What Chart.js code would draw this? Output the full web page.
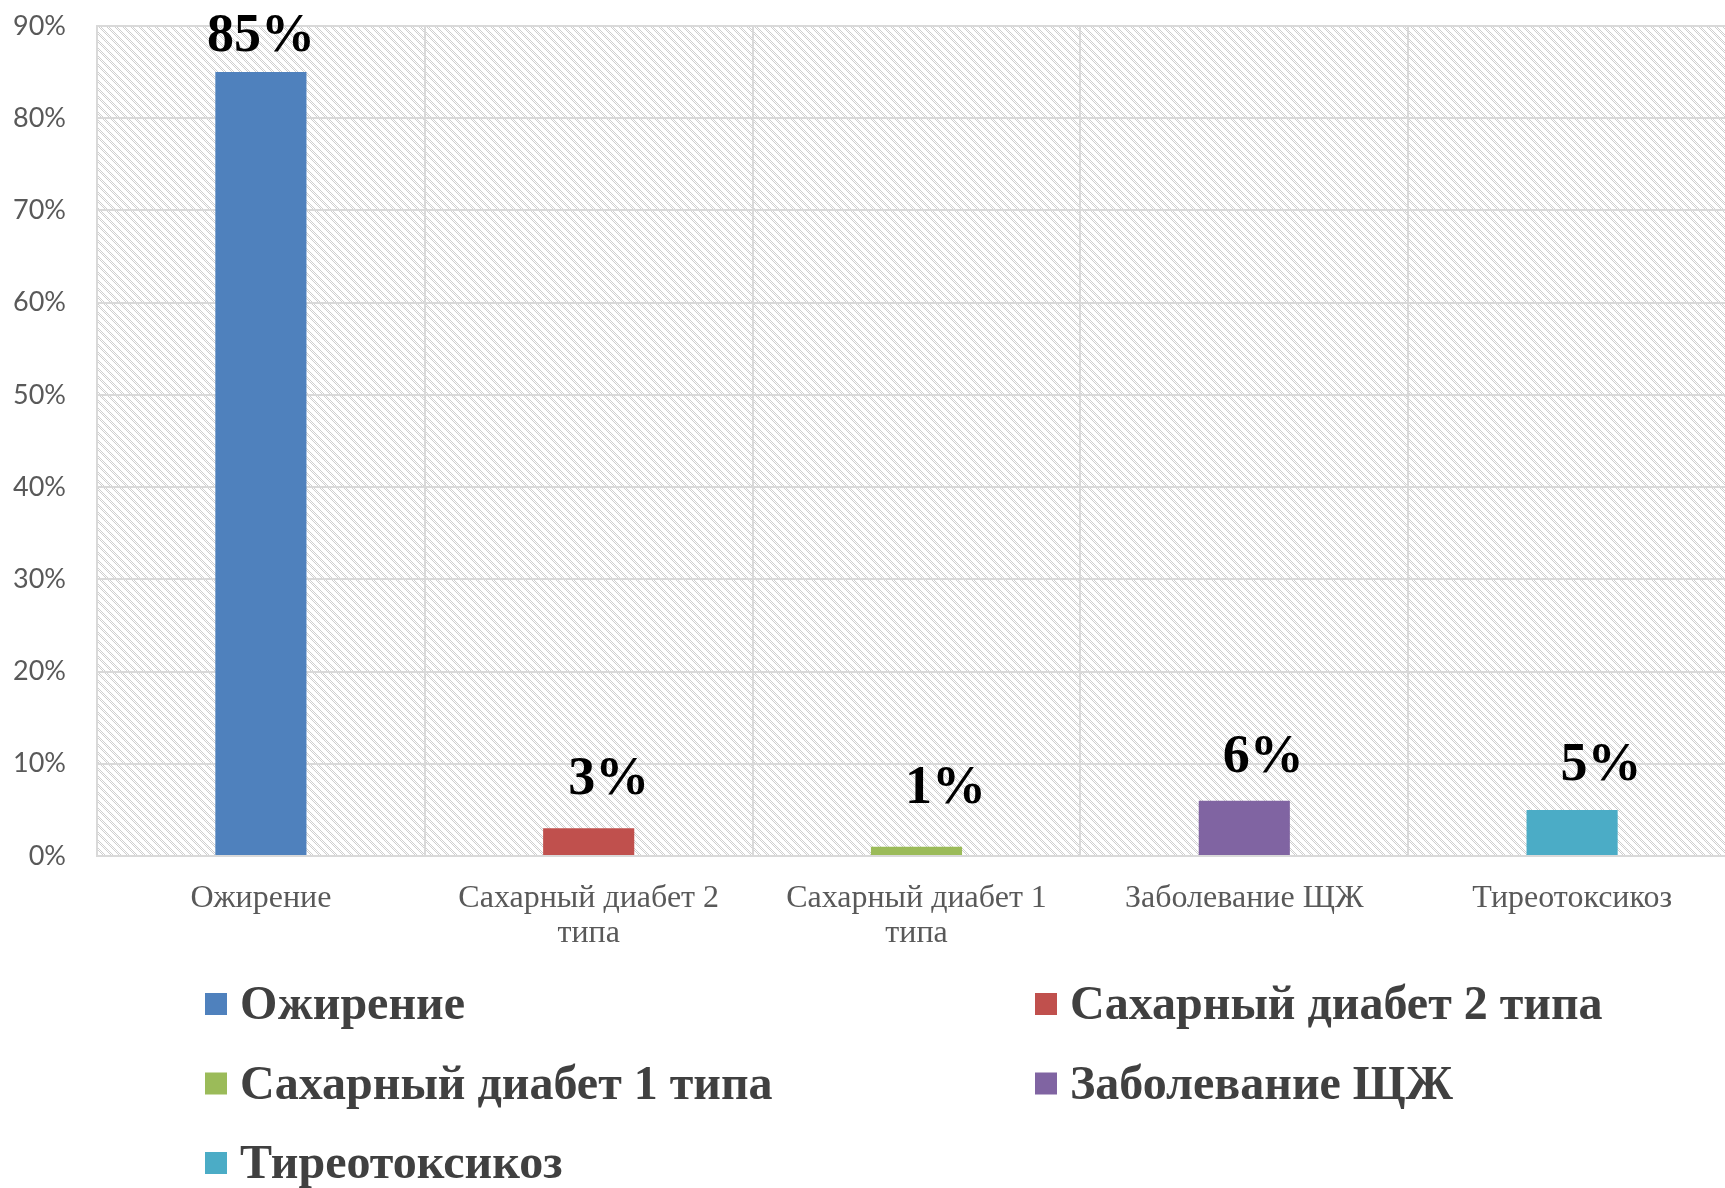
<!DOCTYPE html>
<html>
<head>
<meta charset="utf-8">
<script src="https://cdn.jsdelivr.net/npm/chart.js@4"></script>
<style>
  html, body { margin: 0; padding: 0; background: #ffffff; overflow: hidden; }
  #wrap { width: 1740px; height: 1188px; }
</style>
</head>
<body>
<div id="wrap"><canvas id="grafica" width="1740" height="1188"></canvas></div>
<script>
// datos del gráfico
const categorias = [
  ['Ожирение'],
  ['Сахарный диабет 2', 'типа'],
  ['Сахарный диабет 1', 'типа'],
  ['Заболевание ЩЖ'],
  ['Тиреотоксикоз']
];
const nombresLeyenda = ['Ожирение', 'Сахарный диабет 2 типа', 'Сахарный диабет 1 типа', 'Заболевание ЩЖ', 'Тиреотоксикоз'];
const valores = [85, 3, 1, 6, 5];
const etiquetas = ['85%', '3%', '1%', '6%', '5%'];
const colores = ['#4F81BD', '#C0504D', '#9BBB59', '#8064A2', '#4BACC6'];
const yMax = 90;
const yPaso = 10;

// desplazamiento de las etiquetas (colocadas a mano en el original)
const ajusteEtiqueta = [[0, 21], [20, 34], [29, 44], [19, 29], [29, 30]];

// fondo rayado del área del gráfico
function crearPatron(ctx) {
  const t = document.createElement('canvas');
  t.width = 8; t.height = 8;
  const c = t.getContext('2d');
  c.fillStyle = '#ffffff';
  c.fillRect(0, 0, 8, 8);
  c.fillStyle = '#cfcfcf';
  for (let y = 0; y < 8; y++) {
    for (let x = 0; x < 8; x++) {
      const d = ((x - y) % 8 + 8) % 8;
      if (d < 4 && (x + y) % 2 === 0) c.fillRect(x, y, 1, 1);
    }
  }
  return ctx.createPattern(t, 'repeat');
}

const fondoPlugin = {
  id: 'fondo',
  beforeDraw(chart) {
    const { ctx, chartArea } = chart;
    ctx.save();
    ctx.fillStyle = crearPatron(ctx);
    ctx.fillRect(chartArea.left, chartArea.top, chartArea.right - chartArea.left, chartArea.bottom - chartArea.top);
    ctx.restore();
  }
};

const etiquetasPlugin = {
  id: 'etiquetas',
  afterDatasetsDraw(chart) {
    const { ctx } = chart;
    const meta = chart.getDatasetMeta(0);
    ctx.save();
    ctx.font = 'bold 54px "Liberation Serif", "Times New Roman", serif';
    ctx.fillStyle = '#000000';
    ctx.textAlign = 'center';
    ctx.textBaseline = 'alphabetic';
    meta.data.forEach((bar, i) => {
      const [dx, dy] = ajusteEtiqueta[i];
      ctx.fillText(etiquetas[i], bar.x + dx, bar.y - dy);
    });
    ctx.restore();
  }
};

const leyendaPlugin = {
  id: 'leyendaGrid',
  afterDraw(chart) {
    const { ctx } = chart;
    const colX = [205, 1035];
    const filaY = [1004, 1083.5, 1163];
    ctx.save();
    ctx.font = 'bold 48px "Liberation Serif", "Times New Roman", serif';
    ctx.textBaseline = 'middle';
    ctx.textAlign = 'left';
    nombresLeyenda.forEach((nombre, i) => {
      const x = colX[i % 2];
      const y = filaY[Math.floor(i / 2)];
      ctx.fillStyle = colores[i];
      ctx.fillRect(x, y - 11, 22, 22);
      ctx.fillStyle = '#404040';
      ctx.fillText(nombre, x + 35, y + 3);
    });
    ctx.restore();
  }
};

const ctx = document.getElementById('grafica').getContext('2d');
new Chart(ctx, {
  type: 'bar',
  data: {
    labels: categorias,
    datasets: [{
      data: valores,
      backgroundColor: colores,
      borderWidth: 0,
      barPercentage: 0.556,
      categoryPercentage: 0.5
    }]
  },
  options: {
    responsive: false,
    animation: false,
    layout: { padding: { top: 26, right: 4, left: 0, bottom: 0 } },
    plugins: {
      legend: { display: false },
      tooltip: { enabled: false }
    },
    scales: {
      x: {
        grid: { color: '#d9d9d9', lineWidth: 2, drawTicks: false, offset: true },
        border: { color: '#d9d9d9', width: 2 },
        ticks: {
          color: '#595959',
          font: { family: '"Liberation Serif", "Times New Roman", serif', size: 32, lineHeight: 1.1 },
          padding: 25,
          maxRotation: 0,
          autoSkip: false
        },
        afterFit(scale) { scale.height = 332; }
      },
      y: {
        min: 0,
        max: yMax,
        grid: { color: '#d9d9d9', lineWidth: 2, drawTicks: false },
        border: { color: '#d9d9d9', width: 2 },
        ticks: {
          stepSize: yPaso,
          color: '#595959',
          font: { family: 'Lato, "Open Sans", sans-serif', size: 27 },
          padding: 31,
          callback: v => v + '%'
        },
        afterFit(scale) {
          scale.width = 97;
          scale.paddingTop = 0;
          scale.paddingBottom = 0;
        }
      }
    }
  },
  plugins: [fondoPlugin, etiquetasPlugin, leyendaPlugin]
});
</script>
</body>
</html>
